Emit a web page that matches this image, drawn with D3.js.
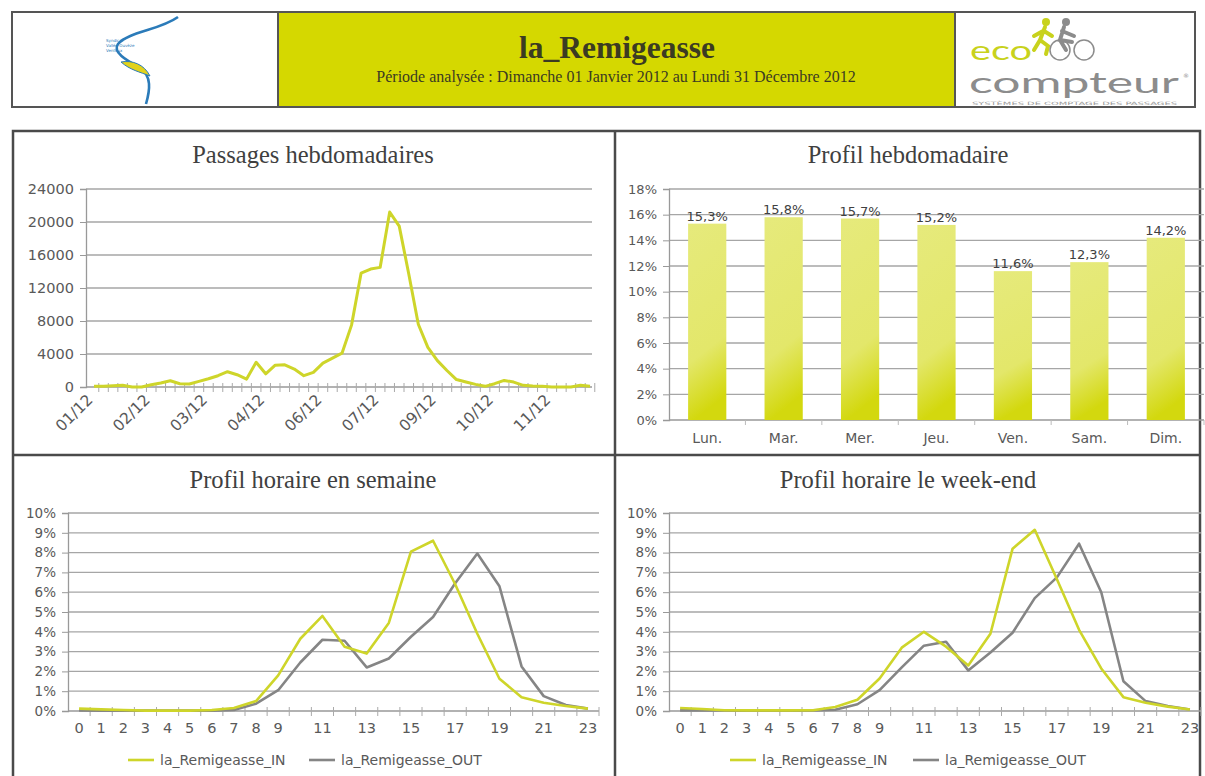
<!DOCTYPE html>
<html>
<head>
<meta charset="utf-8">
<script src="https://cdn.jsdelivr.net/npm/d3@7"></script>
<style>
  body { margin: 0; background: #fff; }
  svg text { font-family: "DejaVu Sans", sans-serif; fill: #595959; }
  .serif { font-family: "Liberation Serif", "Times New Roman", serif !important; }
</style>
</head>
<body>
<div id="container"></div>
<script>
// weekly passages, 2012 (one value per week)
const weekLabels = ["01/12", "02/12", "03/12", "04/12", "06/12", "07/12", "09/12", "10/12", "11/12"];
const weeklyPassages = [
  100, 100, 150, 200, 0, 0, 280, 480, 760, 400,
  360, 680, 1000, 1370, 1850, 1490, 960, 3000, 1600, 2650,
  2690, 2170, 1370, 1770, 2900, 3500, 4100, 7500, 13800, 14300,
  14500, 21200, 19500, 13700, 7600, 4800, 3200, 2000, 900, 600,
  320, 80, 400, 800, 600, 200, 120, 80, 0, 0,
  0, 200, 80
];

// weekly profile (share of passages per weekday, %)
const days = ["Lun.", "Mar.", "Mer.", "Jeu.", "Ven.", "Sam.", "Dim."];
const dayShare = [15.3, 15.8, 15.7, 15.2, 11.6, 12.3, 14.2];

// hourly profiles (%)
const hours = [0, 1, 2, 3, 4, 5, 6, 7, 8, 9, 10, 11, 12, 13, 14, 15, 16, 17, 18, 19, 20, 21, 22, 23];
const hourTickLabels = [0, 1, 2, 3, 4, 5, 6, 7, 8, 9, 11, 13, 15, 17, 19, 21, 23];
const weekdayIn  = [0.12, 0.08, 0.05, 0.02, 0.02, 0.02, 0.05, 0.15, 0.5, 1.8, 3.65, 4.8, 3.25, 2.9, 4.45, 8.05, 8.6, 6.4, 3.9, 1.63, 0.7, 0.42, 0.25, 0.12];
const weekdayOut = [0.03, 0.02, 0.02, 0.02, 0.02, 0.02, 0.02, 0.05, 0.37, 1.05, 2.45, 3.6, 3.55, 2.2, 2.65, 3.75, 4.75, 6.45, 7.95, 6.3, 2.25, 0.75, 0.3, 0.12];
const weekendIn  = [0.15, 0.1, 0.04, 0.03, 0.03, 0.03, 0.04, 0.2, 0.57, 1.64, 3.2, 4.0, 3.25, 2.3, 3.9, 8.2, 9.15, 6.65, 4.1, 2.15, 0.7, 0.42, 0.22, 0.08];
const weekendOut = [0.03, 0.03, 0.03, 0.02, 0.02, 0.02, 0.03, 0.06, 0.34, 1.05, 2.2, 3.3, 3.5, 2.05, 2.95, 3.95, 5.7, 6.75, 8.45, 6.0, 1.5, 0.5, 0.25, 0.08];
const seriesNames = ["la_Remigeasse_IN", "la_Remigeasse_OUT"];

const yellow = "#ced52a";
const gray = "#858585";
const gridColor = "#a6a6a6";

const svg = d3.select("#container")
  .append("svg")
  .attr("width", 1205)
  .attr("height", 776);

makeHeader();
makePanels();
makeWeekly();
makeDays();
makeHourly(68, 599, "Profil horaire en semaine", 313, weekdayIn, weekdayOut, [128, 309]);
makeHourly(669, 1201, "Profil horaire le week-end", 908, weekendIn, weekendOut, [730, 913]);

/*------------------------THE HEADER--------------------*/
function makeHeader() {
  const g = svg.append("g");
  g.append("rect").attr("x", 278).attr("y", 12).attr("width", 677).attr("height", 95).attr("fill", "#d5d800");
  g.append("rect").attr("x", 12).attr("y", 12).attr("width", 1183).attr("height", 95)
    .attr("fill", "none").attr("stroke", "#555").attr("stroke-width", 2);
  [278, 955].forEach(x => g.append("line").attr("x1", x).attr("x2", x).attr("y1", 12).attr("y2", 107)
    .attr("stroke", "#555").attr("stroke-width", 2));

  g.append("text").attr("class", "serif").attr("x", 617).attr("y", 58)
    .attr("text-anchor", "middle").style("font-size", "31.5px").style("font-weight", "bold").style("fill", "#3b3b22")
    .text("la_Remigeasse");
  g.append("text").attr("class", "serif").attr("x", 616).attr("y", 82)
    .attr("text-anchor", "middle").style("font-size", "16px").style("fill", "#3b3b22")
    .text("Période analysée : Dimanche 01 Janvier 2012 au Lundi 31 Décembre 2012");

  // left logo (swoosh)
  const l = g.append("g");
  l.append("path").attr("d", "M178,17 C160,30 128,32 118,44 C112,52 126,60 140,68 C152,76 150,90 146,104")
    .attr("fill", "none").attr("stroke", "#2b7bb9").attr("stroke-width", 2.6);
  l.append("path").attr("d", "M121,62 C132,60 144,64 150,76 C140,72 130,70 121,62 Z")
    .attr("fill", "#e2d21a").attr("stroke", "#2b7bb9").attr("stroke-width", 1);
  [[106, 42, "Syndicat"], [106, 47, "Vallée Ouvèze"], [106, 52, "Ventoux"]].forEach(t =>
    l.append("text").attr("x", t[0]).attr("y", t[1]).style("font-size", "4px").style("fill", "#2b7bb9").text(t[2]));

  // right logo (eco compteur)
  const r = g.append("g");
  r.append("text").attr("x", 970).attr("y", 60).attr("textLength", 62).attr("lengthAdjust", "spacingAndGlyphs")
    .style("font-family", "Lato, sans-serif").style("font-size", "26px").style("fill", "#c8d21c").text("eco");
  r.append("text").attr("x", 969).attr("y", 93).attr("textLength", 210).attr("lengthAdjust", "spacingAndGlyphs")
    .style("font-family", "Lato, sans-serif").style("font-size", "28px").style("fill", "#8c8c8c").text("compteur");
  r.append("text").attr("x", 972).attr("y", 105).attr("textLength", 205).attr("lengthAdjust", "spacingAndGlyphs")
    .style("font-size", "4.5px").style("fill", "#9a9a9a").text("SYSTÈMES DE COMPTAGE DES PASSAGES");
  r.append("text").attr("x", 1183).attr("y", 78).style("font-size", "6px").style("fill", "#8c8c8c").text("®");
  // runner
  r.append("circle").attr("cx", 1046).attr("cy", 22).attr("r", 4).attr("fill", "#c8d21c");
  r.append("path").attr("d", "M1045,27 L1040,40 L1034,50 M1040,40 L1048,46 L1046,54 M1043,31 L1034,36 M1044,31 L1052,36")
    .attr("fill", "none").attr("stroke", "#c8d21c").attr("stroke-width", 4).attr("stroke-linecap", "round");
  // cyclist
  r.append("circle").attr("cx", 1066).attr("cy", 22).attr("r", 4).attr("fill", "#8c8c8c");
  r.append("path").attr("d", "M1064,27 L1060,40 L1072,42 M1062,31 L1074,36 M1060,40 L1066,50")
    .attr("fill", "none").attr("stroke", "#8c8c8c").attr("stroke-width", 4).attr("stroke-linecap", "round");
  [[1060, 50], [1084, 50]].forEach(c => r.append("circle").attr("cx", c[0]).attr("cy", c[1]).attr("r", 10)
    .attr("fill", "none").attr("stroke", "#8c8c8c").attr("stroke-width", 1.5));
}

/*------------------------THE PANELS--------------------*/
function makePanels() {
  const g = svg.append("g");
  g.append("rect").attr("x", 13).attr("y", 131).attr("width", 1187).attr("height", 700)
    .attr("fill", "none").attr("stroke", "#4a4a4a").attr("stroke-width", 2.5);
  g.append("line").attr("x1", 615).attr("x2", 615).attr("y1", 131).attr("y2", 776)
    .attr("stroke", "#4a4a4a").attr("stroke-width", 2.5);
  g.append("line").attr("x1", 13).attr("x2", 1200).attr("y1", 455).attr("y2", 455)
    .attr("stroke", "#4a4a4a").attr("stroke-width", 2.5);
}

function chartTitle(x, y, text) {
  svg.append("text").attr("class", "serif").attr("x", x).attr("y", y).attr("text-anchor", "middle")
    .style("font-size", "24.5px").style("fill", "#404040").text(text);
}

// horizontal grid + left axis with outside tick marks
function yAxisGrid(g, y, ticks, left, right, fmt, fontSize) {
  g.selectAll(".grid").data(ticks).enter().append("line")
    .attr("x1", left).attr("x2", right).attr("y1", d => y(d)).attr("y2", d => y(d))
    .attr("stroke", d => d === ticks[0] ? "#999" : gridColor).attr("stroke-width", 1.3);
  const ax = d3.axisLeft(y).tickValues(ticks).tickSize(6).tickPadding(6).tickFormat(fmt);
  const a = g.append("g").attr("transform", `translate(${left},0)`).call(ax);
  a.select(".domain").attr("stroke", "#999").attr("stroke-width", 1.3);
  a.selectAll(".tick line").attr("stroke", "#999");
  a.selectAll("text").style("font-size", fontSize).style("fill", "#595959").attr("font-family", null);
}

/*------------------------WEEKLY PASSAGES--------------------*/
function makeWeekly() {
  chartTitle(313, 163, "Passages hebdomadaires");
  const g = svg.append("g");
  const left = 86, right = 592, top = 189, bottom = 387;
  const x = d3.scalePoint().domain(d3.range(weeklyPassages.length)).range([94, 590]);
  const y = d3.scaleLinear().domain([0, 24000]).range([bottom, top]);

  yAxisGrid(g, y, [0, 4000, 8000, 12000, 16000, 20000, 24000], left, right, d3.format("d"), "14.5px");

  // small tick marks between weeks
  const step = x.step();
  g.selectAll(".wt").data(weeklyPassages).enter().append("line")
    .attr("x1", (d, i) => x(i) + step / 2).attr("x2", (d, i) => x(i) + step / 2)
    .attr("y1", bottom - 4).attr("y2", bottom + 5).attr("stroke", "#aaa");

  g.append("path").datum(weeklyPassages)
    .attr("fill", "none").attr("stroke", yellow).attr("stroke-width", 3).attr("stroke-linejoin", "round")
    .attr("d", d3.line().x((d, i) => x(i)).y(d => y(d)));

  g.selectAll(".wl").data(weekLabels).enter().append("text")
    .attr("transform", (d, i) => `translate(${x(i * 6) - 8},${bottom + 6}) rotate(-45)`)
    .attr("text-anchor", "end").attr("dy", "0.7em")
    .style("font-size", "15.5px").text(d => d);
}

/*------------------------WEEKLY PROFILE--------------------*/
function makeDays() {
  chartTitle(908, 163, "Profil hebdomadaire");
  const g = svg.append("g");
  const left = 669, right = 1204, top = 189, bottom = 420;
  const x = d3.scaleBand().domain(days).range([left, right]).paddingInner(0.5).paddingOuter(0.25);
  const y = d3.scaleLinear().domain([0, 18]).range([bottom, top]);

  const grad = svg.append("defs").append("linearGradient").attr("id", "barGrad")
    .attr("x1", "0").attr("y1", "0").attr("x2", "0.15").attr("y2", "1");
  [["0%", "#e6ea7c"], ["70%", "#e3e76a"], ["100%", "#d3d80e"]].forEach(s =>
    grad.append("stop").attr("offset", s[0]).attr("stop-color", s[1]));

  yAxisGrid(g, y, d3.range(0, 19, 2), left, right, d => d + "%", "13px");

  g.selectAll(".bar").data(dayShare).enter().append("rect")
    .attr("x", (d, i) => x(days[i])).attr("y", d => y(d))
    .attr("width", x.bandwidth()).attr("height", d => bottom - y(d))
    .attr("fill", "url(#barGrad)");

  // category tick marks
  g.selectAll(".dt").data(days).enter().append("line")
    .attr("x1", d => x(d) + x.bandwidth() + x.step() * 0.25).attr("x2", d => x(d) + x.bandwidth() + x.step() * 0.25)
    .attr("y1", bottom).attr("y2", bottom + 5).attr("stroke", "#bbb");

  g.selectAll(".vl").data(dayShare).enter().append("text")
    .attr("x", (d, i) => x(days[i]) + x.bandwidth() / 2).attr("y", d => y(d) - 3)
    .attr("text-anchor", "middle").style("font-size", "13px").style("fill", "#404040")
    .text(d => String(d).replace(".", ",") + "%");

  g.selectAll(".xl").data(days).enter().append("text")
    .attr("x", d => x(d) + x.bandwidth() / 2).attr("y", bottom + 23)
    .attr("text-anchor", "middle").style("font-size", "14px").text(d => d);
}

/*------------------------HOURLY PROFILES--------------------*/
function makeHourly(left, right, title, titleX, inData, outData, legendX) {
  chartTitle(titleX, 488, title);
  const g = svg.append("g");
  const top = 513, bottom = 711;
  const x = d3.scaleBand().domain(hours).range([left, right]);
  const y = d3.scaleLinear().domain([0, 10]).range([bottom, top]);

  yAxisGrid(g, y, d3.range(0, 11), left, right, d => d + "%", "13.5px");

  g.selectAll(".ht").data(hours).enter().append("line")
    .attr("x1", d => x(d) + x.bandwidth()).attr("x2", d => x(d) + x.bandwidth())
    .attr("y1", bottom - 4).attr("y2", bottom + 5).attr("stroke", "#aaa");

  const line = d3.line().x((d, i) => x(hours[i]) + x.bandwidth() / 2).y(d => y(d));
  [[outData, gray], [inData, yellow]].forEach(s =>
    g.append("path").datum(s[0]).attr("fill", "none").attr("stroke", s[1])
      .attr("stroke-width", 2.6).attr("stroke-linejoin", "round").attr("d", line));

  g.selectAll(".hl").data(hourTickLabels).enter().append("text")
    .attr("x", d => x(d) + x.bandwidth() / 2).attr("y", bottom + 22)
    .attr("text-anchor", "middle").style("font-size", "14.5px").text(d => d);

  // legend
  [yellow, gray].forEach((c, i) => {
    g.append("line").attr("x1", legendX[i]).attr("x2", legendX[i] + 26).attr("y1", 760).attr("y2", 760)
      .attr("stroke", c).attr("stroke-width", 2.6);
    g.append("text").attr("x", legendX[i] + 32).attr("y", 765).style("font-size", "14px").text(seriesNames[i]);
  });
}
</script>
</body>
</html>
